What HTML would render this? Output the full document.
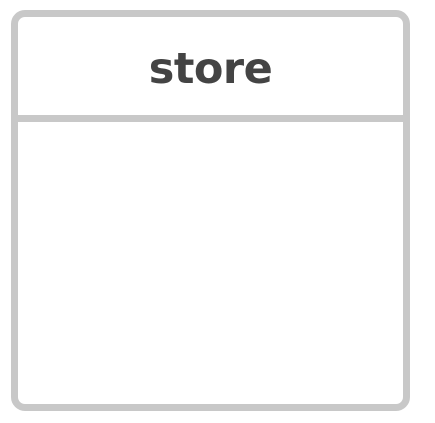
<!DOCTYPE html>
<html><head><meta charset="utf-8"><style>
html,body{margin:0;padding:0;background:#fff;width:435px;height:423px;overflow:hidden}
.box{position:absolute;left:11px;top:10px;width:385px;height:387px;border:7px solid #c8c8c8;border-radius:14px;background:#fff}
.div{position:absolute;left:0;right:0;top:98px;height:7px;background:#c8c8c8}
.t{position:absolute;left:0;right:0;top:26px;text-align:center;font-family:"DejaVu Sans","Liberation Sans",sans-serif;font-size:43px;font-weight:bold;letter-spacing:-0.5px;color:#444;line-height:52px}
</style></head><body>
<div class="box"><div class="t">store</div><div class="div"></div></div>
</body></html>
